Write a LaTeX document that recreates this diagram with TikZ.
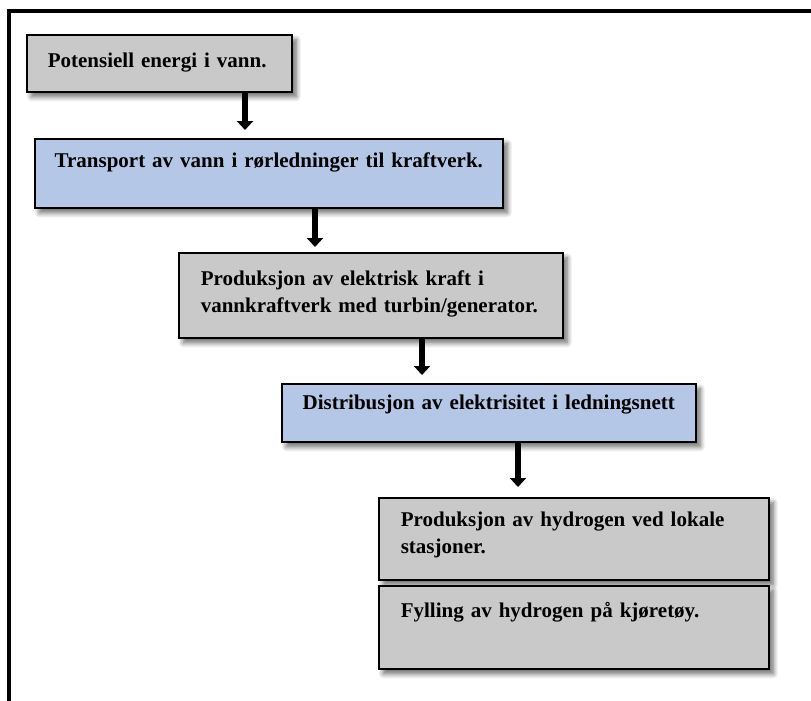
\documentclass[tikz,border=0pt]{standalone}
\usepackage{fontspec}
\setmainfont{Liberation Serif}
\usetikzlibrary{arrows.meta,shadows.blur}

\definecolor{boxgray}{HTML}{C9C9C9}
\definecolor{boxblue}{HTML}{B4C7E7}

\tikzset{
  stage/.style={draw=black, line width=1.6pt, rectangle, anchor=north west,
    inner ysep=0pt, align=left,
    font=\fontsize{21}{27}\selectfont\bfseries,
    blur shadow={shadow xshift=4.5pt, shadow yshift=-5pt,
      shadow blur radius=5pt, shadow blur steps=10, shadow opacity=60}},
  graystage/.style={stage, fill=boxgray},
  bluestage/.style={stage, fill=boxblue},
  flow/.style={line width=5.5pt, -{Triangle[width=16pt,length=9pt]}},
  frame/.style={line width=3.6pt}
}

\begin{document}
\begin{tikzpicture}[x=1pt, y=-1pt]
  \useasboundingbox (0,0) rectangle (811,701);

  % open frame: top and left edges only
  \coordinate (ftl) at (9,11);
  \coordinate (ftr) at (812,11);
  \coordinate (fbl) at (9,702);
  \draw[frame] (ftr) -- (ftl) -- (fbl);

  % stages of the chain
  \node[graystage, inner xsep=21pt, text width=223pt, text height=33pt, text depth=24pt]
    (b1) at (26,34) {Potensiell energi i vann.};
  \node[bluestage, inner xsep=5pt, text width=458pt, align=center, text height=29pt, text depth=40pt]
    (b2) at (34,138) {Transport av vann i rørledninger til kraftverk.};
  \node[graystage, inner xsep=22pt, text width=340pt, text height=33pt, text depth=52pt]
    (b3) at (178,252) {Produksjon av elektrisk kraft i\\vannkraftverk med turbin/generator.};
  \node[bluestage, inner xsep=5pt, text width=404pt, align=center, text height=26pt, text depth=32pt]
    (b4) at (281,383) {Distribusjon av elektrisitet i ledningsnett};
  \node[graystage, inner xsep=22pt, text width=346pt, text height=29pt, text depth=53pt]
    (b5) at (378,497) {Produksjon av hydrogen ved lokale\\stasjoner.};
  \node[graystage, inner xsep=22pt, text width=346pt, text height=32pt, text depth=51pt]
    (b6) at (378,585) {Fylling av hydrogen på kjøretøy.};

  % arrow columns
  \coordinate (x1) at (245,0);
  \coordinate (x2) at (315,0);
  \coordinate (x3) at (422,0);
  \coordinate (x4) at (518,0);

  \draw[flow, shorten >=8pt]  (b1.south -| x1) -- (b2.north -| x1);
  \draw[flow, shorten >=5pt]  (b2.south -| x2) -- (b3.north -| x2);
  \draw[flow, shorten >=8pt]  (b3.south -| x3) -- (b4.north -| x3);
  \draw[flow, shorten >=10pt] (b4.south -| x4) -- (b5.north -| x4);
\end{tikzpicture}
\end{document}
